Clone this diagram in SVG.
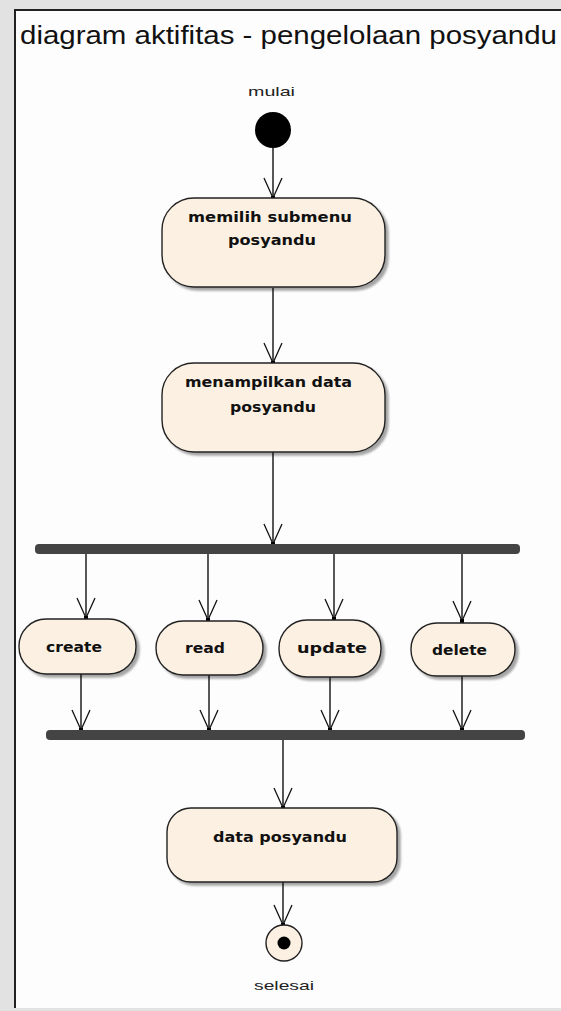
<svg xmlns="http://www.w3.org/2000/svg" width="561" height="1011" viewBox="0 0 561 1011">
<defs>
<filter id="sh" x="-10%" y="-10%" width="130%" height="140%">
<feOffset dx="3" dy="3" in="SourceAlpha" result="o"/>
<feGaussianBlur stdDeviation="1.2" in="o" result="b"/>
<feColorMatrix in="b" type="matrix" values="0 0 0 0 0 0 0 0 0 0 0 0 0 0 0 0 0 0 0.35 0" result="c"/>
<feMerge><feMergeNode in="c"/><feMergeNode in="SourceGraphic"/></feMerge>
</filter>
</defs>
<style>
.act{fill:#fbf0e1;stroke:#222;stroke-width:1.4;filter:url(#sh)}
.lbl{font-family:"DejaVu Sans",sans-serif;font-weight:bold;font-size:14px;fill:#111;text-anchor:middle}
.sm{font-family:"Liberation Sans",Arial,sans-serif;font-size:13px;fill:#222;text-anchor:middle}
.bar{fill:#444}
.con{stroke:#111;stroke-width:1.4;fill:none}
.ah{stroke:#111;stroke-width:1.3;fill:none}
</style>
<rect x="0" y="0" width="561" height="1011" fill="#e2e2e2"/>
<rect x="15" y="10" width="560" height="998" fill="#fdfdfd"/>
<path d="M15,1008 V10 H561" fill="none" stroke="#222" stroke-width="2"/>
<text x="20" y="44" font-family="Liberation Sans, Arial, sans-serif" font-size="26" fill="#111" textLength="537" lengthAdjust="spacingAndGlyphs">diagram aktifitas - pengelolaan posyandu</text>

<g id="connectors">
<path class="con" d="M273,148 V198"/>
<path class="ah" d="M264,178 L273,198 L282,178"/>
<path class="con" d="M273,288 V363"/>
<path class="ah" d="M264,343 L273,363 L282,343"/>
<path class="con" d="M273,452 V544"/>
<path class="ah" d="M264,524 L273,544 L282,524"/>
<path class="con" d="M86,554 V618"/>
<path class="ah" d="M77,598 L86,618 L95,598"/>
<path class="con" d="M208,554 V620"/>
<path class="ah" d="M199,600 L208,620 L217,600"/>
<path class="con" d="M334,554 V619"/>
<path class="ah" d="M325,599 L334,619 L343,599"/>
<path class="con" d="M462,554 V621"/>
<path class="ah" d="M453,601 L462,621 L471,601"/>
<path class="con" d="M81,674 V730"/>
<path class="ah" d="M72,710 L81,730 L90,710"/>
<path class="con" d="M209,675 V730"/>
<path class="ah" d="M200,710 L209,730 L218,710"/>
<path class="con" d="M330,677 V730"/>
<path class="ah" d="M321,710 L330,730 L339,710"/>
<path class="con" d="M462,676 V730"/>
<path class="ah" d="M453,710 L462,730 L471,710"/>
<path class="con" d="M283,740 V808"/>
<path class="ah" d="M274,788 L283,808 L292,788"/>
<path class="con" d="M283,882 V925"/>
<path class="ah" d="M274,905 L283,925 L292,905"/>
<g fill="#000">
<rect x="271" y="196" width="4" height="4"/>
<rect x="271" y="361" width="4" height="4"/>
<rect x="271" y="542" width="4" height="4"/>
<rect x="84" y="616" width="4" height="4"/>
<rect x="206" y="618" width="4" height="4"/>
<rect x="332" y="617" width="4" height="4"/>
<rect x="460" y="619" width="4" height="4"/>
<rect x="79" y="728" width="4" height="4"/>
<rect x="207" y="728" width="4" height="4"/>
<rect x="328" y="728" width="4" height="4"/>
<rect x="460" y="728" width="4" height="4"/>
<rect x="281" y="806" width="4" height="4"/>
<rect x="281" y="923" width="4" height="4"/>
</g>
</g>

<g id="start">
<text class="sm" x="271.5" y="96" textLength="47" lengthAdjust="spacingAndGlyphs">mulai</text>
<circle cx="273" cy="130" r="18" fill="#000"/>
</g>

<g id="memilih">
<rect class="act" x="162" y="198" width="223" height="89" rx="32"/>
<text class="lbl" x="270" y="222" textLength="164" lengthAdjust="spacingAndGlyphs">memilih submenu</text>
<text class="lbl" x="272" y="245" textLength="88" lengthAdjust="spacingAndGlyphs">posyandu</text>
</g>

<g id="menampilkan">
<rect class="act" x="162" y="363" width="223" height="89" rx="32"/>
<text class="lbl" x="268.5" y="387" textLength="167" lengthAdjust="spacingAndGlyphs">menampilkan data</text>
<text class="lbl" x="273" y="412" textLength="86" lengthAdjust="spacingAndGlyphs">posyandu</text>
</g>

<g id="fork">
<rect class="bar" x="35" y="544" width="485" height="10" rx="4"/>
</g>

<g id="create">
<rect class="act" x="19" y="619" width="117" height="55" rx="27"/>
<text class="lbl" x="74" y="652" textLength="56" lengthAdjust="spacingAndGlyphs">create</text>
</g>
<g id="read">
<rect class="act" x="156" y="621" width="107" height="54" rx="27"/>
<text class="lbl" x="205" y="653" textLength="40" lengthAdjust="spacingAndGlyphs">read</text>
</g>
<g id="update">
<rect class="act" x="279" y="620" width="102" height="57" rx="28"/>
<text class="lbl" x="332" y="653" textLength="70" lengthAdjust="spacingAndGlyphs">update</text>
</g>
<g id="delete">
<rect class="act" x="411" y="623" width="104" height="53" rx="26"/>
<text class="lbl" x="459.5" y="655" textLength="55" lengthAdjust="spacingAndGlyphs">delete</text>
</g>

<g id="join">
<rect class="bar" x="46" y="730" width="479" height="10" rx="4"/>
</g>

<g id="data">
<rect class="act" x="167" y="808" width="230" height="74" rx="24"/>
<text class="lbl" x="280" y="842" textLength="134" lengthAdjust="spacingAndGlyphs">data posyandu</text>
</g>

<g id="end">
<circle cx="284" cy="943" r="18" fill="#fbf0e1" stroke="#222" stroke-width="1.4"/>
<circle cx="284" cy="943" r="6.5" fill="#000"/>
<text class="sm" x="284" y="990" textLength="60" lengthAdjust="spacingAndGlyphs">selesai</text>
</g>
</svg>
